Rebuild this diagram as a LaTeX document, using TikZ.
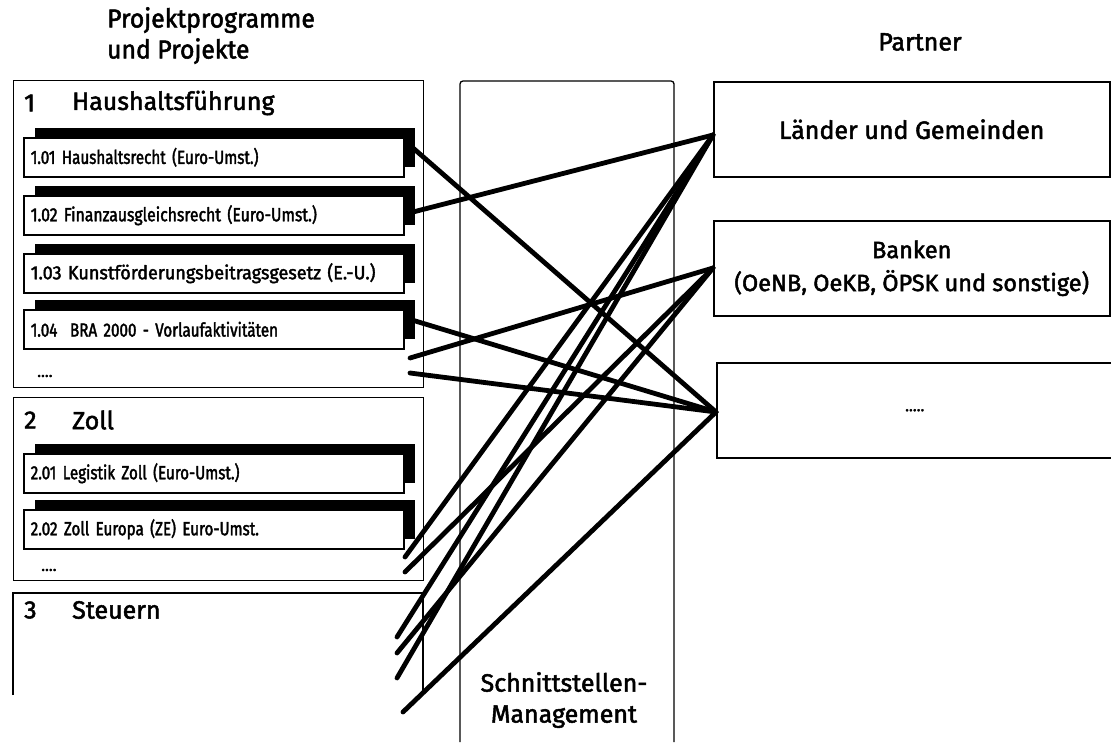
\documentclass[tikz,border=0pt]{standalone}
\usepackage{fontspec}
\setmainfont{Fira Sans}[FakeBold=2]
\newfontfamily\condfont{Fira Sans}[FakeStretch=0.8,FakeBold=2]
\newfontfamily\regfont{Fira Sans}[FakeBold=2]
\newfontfamily\widefont{Fira Sans}[FakeStretch=0.95,FakeBold=2]
\usetikzlibrary{shadows}
\begin{document}
\begin{tikzpicture}[x=1pt,y=-1pt,
  secbox/.style={draw, line width=1.3pt, anchor=north west, inner sep=0pt},
  item/.style={draw, line width=1.5pt, fill=white, anchor=north west,
    minimum width=380pt, minimum height=39pt, inner xsep=7pt, inner ysep=0pt,
    text width=366pt, align=left, font=\condfont\fontsize{19}{21}\selectfont,
    general shadow={fill=black, shadow xshift=11pt, shadow yshift=10pt}},
  head/.style={anchor=west, inner sep=0pt, font=\regfont\fontsize{25}{27}\selectfont},
  dots/.style={anchor=west, inner sep=0pt, font=\regfont\fontsize{16}{18}\selectfont},
  partner/.style={draw, line width=1.5pt, anchor=north west, minimum width=396pt,
    minimum height=95pt, inner sep=0pt, align=center,
    font=\regfont\fontsize{25}{32}\selectfont},
  title/.style={inner sep=0pt, align=left, font=\widefont\fontsize{26}{31}\selectfont},
  colhead/.style={inner sep=0pt, align=center, font=\regfont\fontsize{25}{31}\selectfont},
  conn/.style={line width=4.8pt, line cap=round}]
\useasboundingbox (0,0) rectangle (1111,742);

% titles
\node[title, anchor=north west] (ttl) at (107,7) {Projektprogramme\\und Projekte};
\node[colhead, anchor=center] (ptn) at (920,42) {Partner};

% section boxes
\node[secbox, minimum width=410pt, minimum height=307pt] (s1) at (13,80) {};
\node[secbox, minimum width=410pt, minimum height=183pt] (s2) at (13,397) {};
\draw[line width=1.3pt] (13,695) |- (423,593) -- (423,692);

% middle column
\draw[line width=1.3pt, rounded corners=3pt] (460,742) -- (460,81) -- (674,81) -- (674,742);
\node[colhead, anchor=center] (sm) at (564,700) {Schnittstellen-\\Management};

% headers
\node[head] (n1) at (24,103) {1};
\node[head] (h1) at (72,103) {Haushaltsführung};
\node[head] (n2) at (24,420) {2};
\node[head] (h2) at (72,420) {Zoll};
\node[head] (n3) at (24,610) {3};
\node[head] (h3) at (72,610) {Steuern};

% items
\node[item] (i101) at (23,137) {1.01 Haushaltsrecht (Euro-Umst.)};
\node[item] (i102) at (23,195) {\addfontfeature{FakeStretch=0.83}1.02 Finanzausgleichsrecht (Euro-Umst.)};
\node[item] (i103) at (23,253) {\addfontfeature{FakeStretch=0.95}1.03 Kunstförderungsbeitragsgesetz (E.-U.)};
\node[item] (i104) at (23,309) {1.04\ \ BRA 2000 - Vorlaufaktivitäten};
\node[dots] (d1) at (37,376) {....};
\node[item] (i201) at (23,453) {2.01 Legistik Zoll (Euro-Umst.)};
\node[item] (i202) at (23,509) {2.02 Zoll Europa (ZE) Euro-Umst.};
\node[dots] (d2) at (41,570) {....};

% partner boxes
\node[partner] (land) at (713,81) {Länder und Gemeinden};
\node[partner, font=\regfont\fontsize{23.5}{33}\selectfont] (bank) at (713,220) {Banken\\(OeNB, OeKB, ÖPSK und sonstige)};
\node[partner] (more) at (716,362) {\fontsize{16}{18}\selectfont .....};

% connector end points
\coordinate (L) at (713,135);
\coordinate (B) at (713,268);
\coordinate (D) at (716,412);
\coordinate (a1) at (413,148);
\coordinate (a2) at (413,212);
\coordinate (a4) at (412,320);
\coordinate (a5) at (410,358);
\coordinate (a6) at (410,373);
\coordinate (b1) at (405,557);
\coordinate (b2) at (405,572);
\coordinate (b3) at (397,637);
\coordinate (b4) at (397,653);
\coordinate (b5) at (397,678);
\coordinate (b6) at (403,712);

\draw[conn] (a1) -- (D);
\draw[conn] (a2) -- (L);
\draw[conn] (a4) -- (D);
\draw[conn] (a5) -- (B);
\draw[conn] (a6) -- (D);
\draw[conn] (b1) -- (L);
\draw[conn] (b2) -- (B);
\draw[conn] (b3) -- (L);
\draw[conn] (b4) -- (B);
\draw[conn] (b5) -- (L);
\draw[conn] (b6) -- (D);
\end{tikzpicture}
\end{document}
